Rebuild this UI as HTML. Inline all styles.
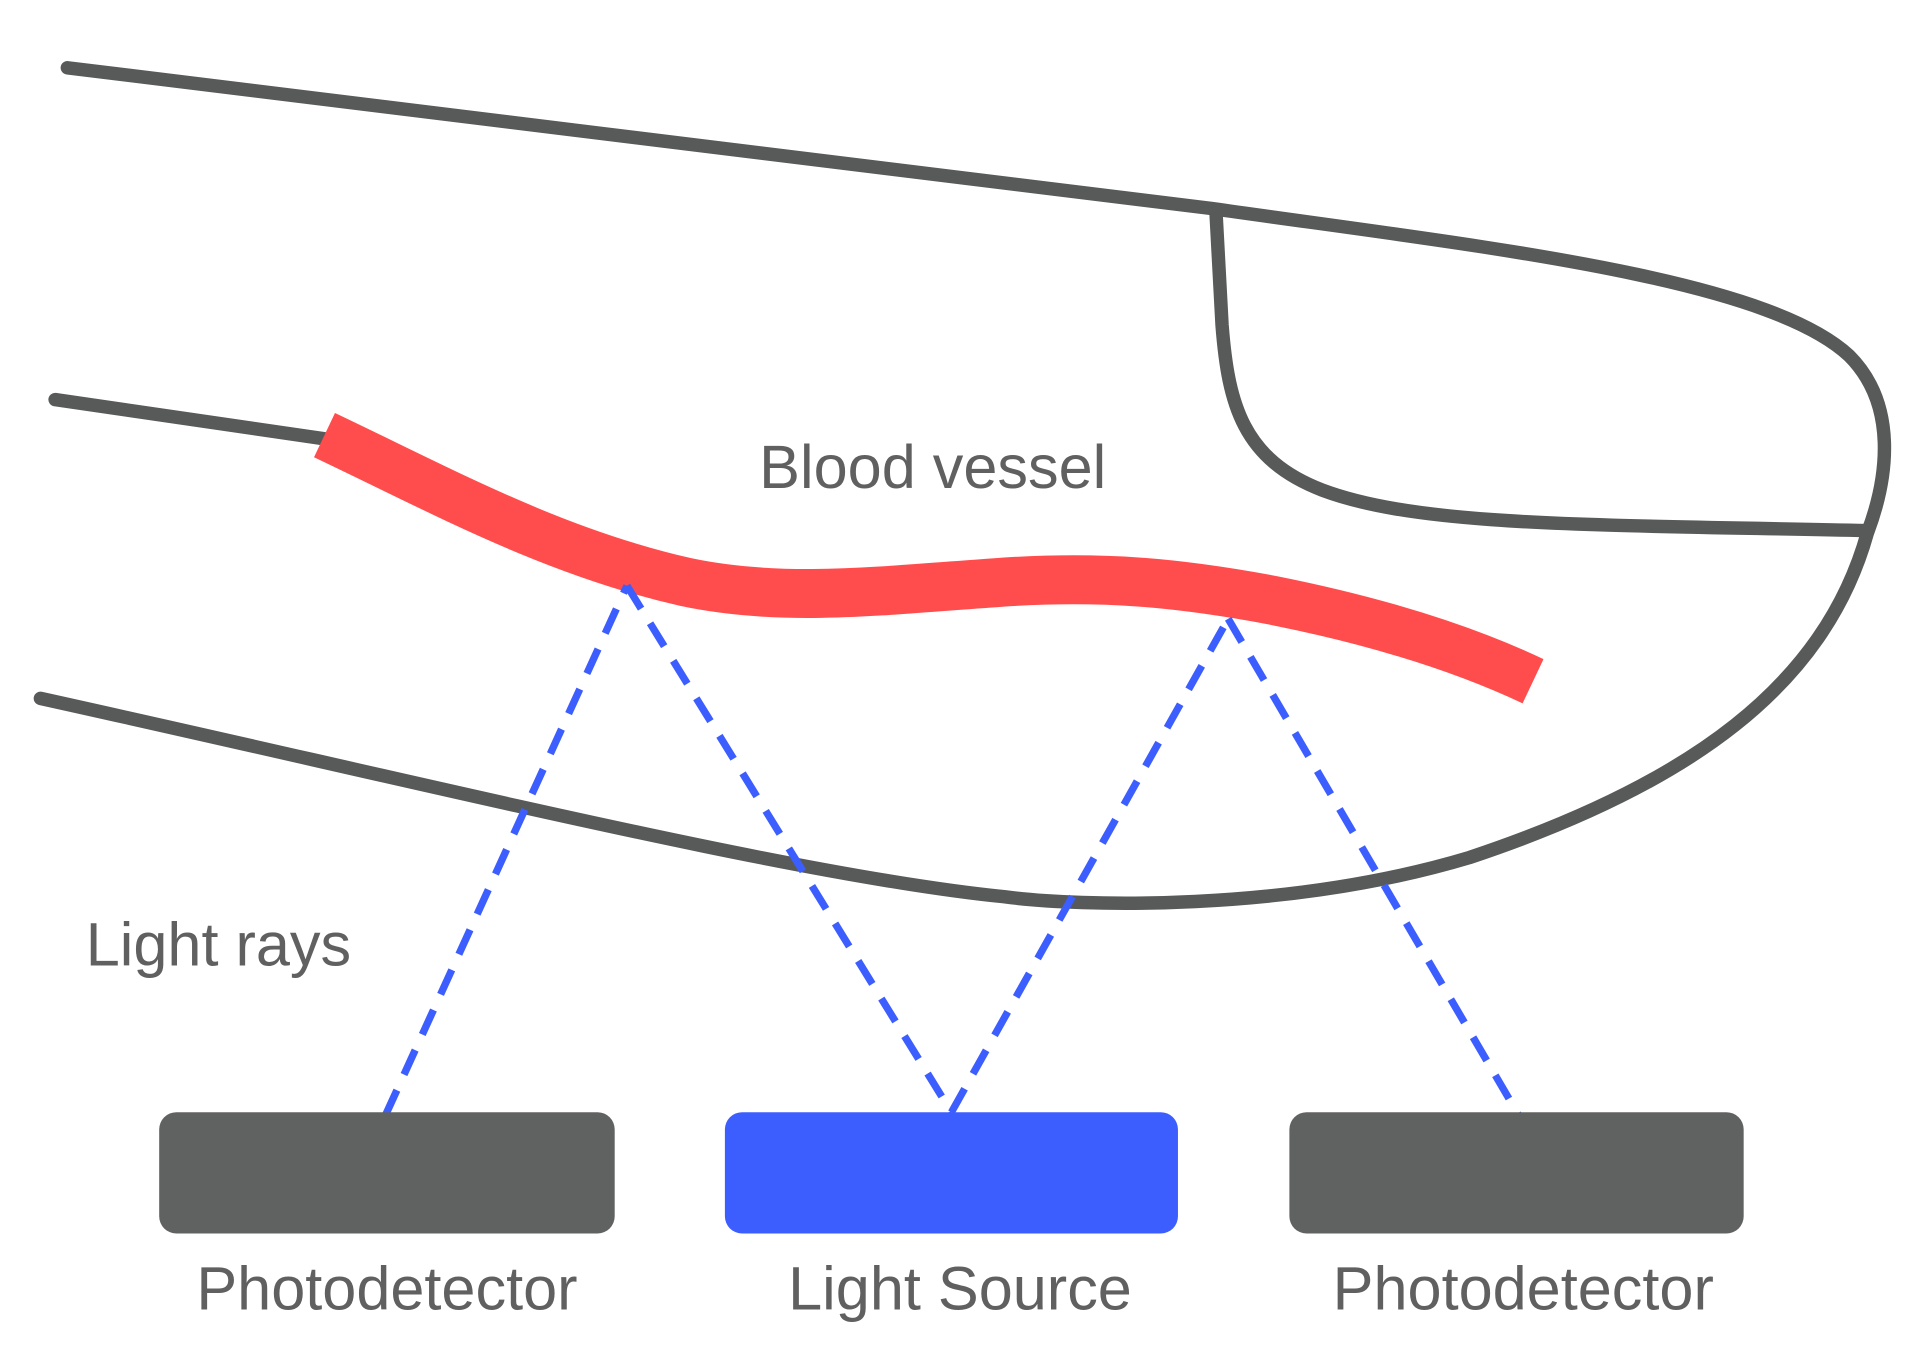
<!DOCTYPE html>
<html><head><meta charset="utf-8"><style>
html,body{margin:0;padding:0;background:#fff;width:1920px;height:1360px;overflow:hidden}
svg{display:block}
text{font-family:"Liberation Sans",sans-serif;fill:#606060}
</style></head><body>
<svg width="1920" height="1360" viewBox="0 0 1568 1110" xmlns="http://www.w3.org/2000/svg">
<g fill="none" stroke="#575a59" stroke-width="11" stroke-linecap="round" stroke-linejoin="round">
<path d="M55,55 L990,170 C1200,200 1440,225 1510,290 C1550,330 1542,390 1525,435 C1490,560 1380,640 1200,700 C1050,745 880,740 820,732 C650,715 350,640 33,570"/>
<path d="M45,326 L265,358"/>
<path d="M993,172 L998,265 C1003,330 1015,375 1080,400 C1160,430 1300,428 1525,433"/>
</g>
<path d="M265,355 C360,400 450,450 560,475 C640,492 720,482 820,475 C900,470 960,475 1040,490 C1100,502 1180,522 1252,556" fill="none" stroke="#ff4d4d" stroke-width="40"/>
<g stroke="#3d5eff" stroke-width="6" stroke-dasharray="22 14" fill="none">
<path d="M315,910 L512,478"/>
<path d="M512,478 L777,908"/>
<path d="M777,908 L1003,505"/>
<path d="M1003,505 L1240,910"/>
</g>
<rect x="130" y="908" width="372" height="99" rx="14" fill="#606261"/>
<rect x="592" y="908" width="370" height="99" rx="14" fill="#3d5eff"/>
<rect x="1053" y="908" width="371" height="99" rx="14" fill="#606261"/>
<text x="620" y="398" font-size="50">Blood vessel</text>
<text x="70" y="788" font-size="50">Light rays</text>
<text x="316" y="1069" font-size="50" text-anchor="middle">Photodetector</text>
<text x="784" y="1069" font-size="50" text-anchor="middle">Light Source</text>
<text x="1244" y="1069" font-size="50" text-anchor="middle">Photodetector</text>
</svg>
</body></html>
